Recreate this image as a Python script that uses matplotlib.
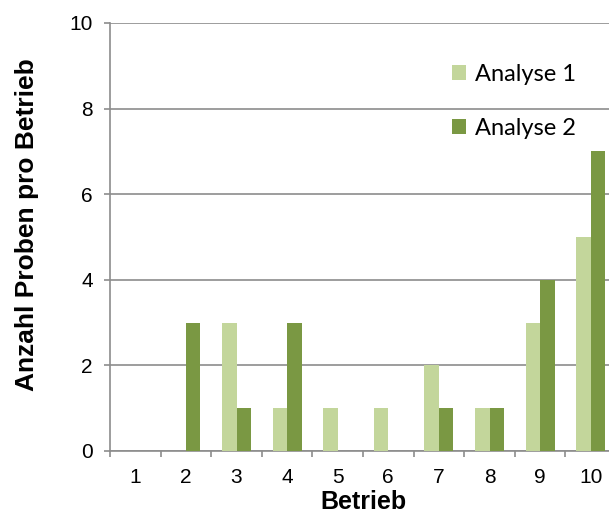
import numpy as np
import matplotlib.pyplot as plt
from matplotlib.ticker import FixedLocator

# Data
betriebe = ['1', '2', '3', '4', '5', '6', '7', '8', '9', '10']
analyse_1 = [0, 0, 3, 1, 1, 1, 2, 1, 3, 5]
analyse_2 = [0, 3, 1, 3, 0, 0, 1, 1, 4, 7]

col_light = '#c3d69b'
col_dark = '#7a9843'
grid_col = '#8c8c8c'

fig = plt.figure(figsize=(6.09, 5.16), dpi=100)
# plot area extends a bit beyond the right edge, like the reference crop
ax = fig.add_axes([110 / 609, 65 / 516, 506 / 609, 428 / 516])

x = np.arange(len(betriebe))
w = 0.285
ax.bar(x - w / 2, analyse_1, width=w, color=col_light, label='Analyse 1', zorder=3)
ax.bar(x + w / 2, analyse_2, width=w, color=col_dark, label='Analyse 2', zorder=3)

ax.set_xlim(-0.5, len(betriebe) - 0.5)
ax.set_ylim(0, 10)
ax.set_yticks([0, 2, 4, 6, 8, 10])
ax.set_xticks(x)
ax.set_xticklabels(betriebe)
ax.xaxis.set_minor_locator(FixedLocator(np.arange(-0.5, len(betriebe), 1.0)))

ax.grid(axis='y', color=grid_col, linewidth=1.2, zorder=0)
for s in ['top', 'right']:
    ax.spines[s].set_visible(False)
for s in ['left', 'bottom']:
    ax.spines[s].set_color(grid_col)
    ax.spines[s].set_linewidth(1.2)

ax.tick_params(axis='x', which='major', length=0, pad=12,
               labelsize=15, labelfontfamily='Liberation Sans')
ax.tick_params(axis='x', which='minor', length=4.5, width=1.2, color=grid_col, direction='out')
ax.tick_params(axis='y', length=4.5, width=1.2, color=grid_col, pad=8,
               labelsize=15, labelfontfamily='Liberation Sans')

ax.set_xlabel('Betrieb', fontsize=18, fontweight='bold', family='Liberation Sans', labelpad=2.5)
ax.set_ylabel('Anzahl Proben pro Betrieb', fontsize=19, fontweight='bold',
              family='Liberation Sans')
ax.yaxis.set_label_coords(-0.14, 0.53)

ax.legend(loc='upper left', bbox_to_anchor=(0.676, 0.905), frameon=False,
          borderpad=0, borderaxespad=0,
          handlelength=0.6, handleheight=0.6, handletextpad=0.38,
          labelspacing=1.4, prop={'family': 'Lato', 'size': 17})

fig.savefig('out.png', dpi=100)
